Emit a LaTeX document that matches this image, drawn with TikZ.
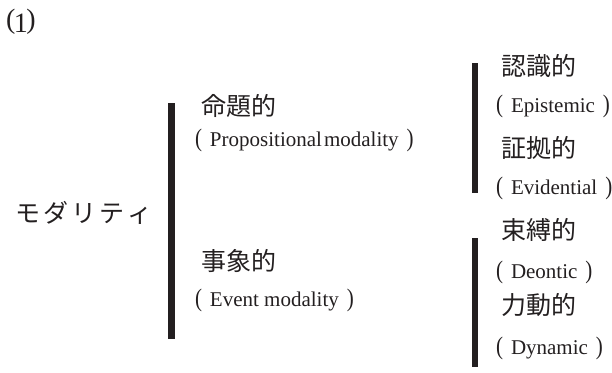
\documentclass[tikz,border=0pt]{standalone}
\usepackage{fontspec}
\newfontfamily\jp{Noto Sans CJK JP}
\newfontfamily\tms{Liberation Serif}
\definecolor{ink}{HTML}{231F20}
\newcommand\lpar{\scalebox{1}[1.2]{(}}
\newcommand\rpar{\scalebox{1}[1.2]{)}}
\newcommand\pls[1]{{\tms\fontsize{21}{21}\selectfont\lpar\hspace{8pt}#1\hspace{8pt}\rpar}}
\tikzset{
  jtxt/.style={anchor=base west, inner sep=0pt, outer sep=0pt, text=ink, font=\jp\fontsize{25}{25}\selectfont},
  etxt/.style={anchor=base west, inner sep=0pt, outer sep=0pt, text=ink},
  bar/.style={fill=ink}
}
\begin{document}
\begin{tikzpicture}[x=1pt,y=-1pt]
\useasboundingbox (0,0) rectangle (612,372);
% label (1)
\node[etxt] (num) at (6,28) {{\tms\fontsize{28}{28}\selectfont(\kern-1.5pt\raisebox{-4pt}{1}\kern-1.5pt)}};
% root
\node[jtxt] (root) at (15,222) {モ\kern3pt ダ\kern3pt リ\kern3pt テ\kern3pt ィ};
% first level
\node[jtxt] (prop) at (201,115.5) {命題的};
\node[etxt] (propE) at (195,146.5) {\pls{Propositional\hspace{2pt}modality}};
\node[jtxt] (event) at (201,270.5) {事象的};
\node[etxt] (eventE) at (195,306.5) {\pls{Event modality}};
% second level, upper
\node[jtxt] (epi) at (501,75.5) {認識的};
\node[etxt] (epiE) at (496,112.5) {\pls{Epistemic}};
\node[jtxt] (evi) at (501,157) {証拠的};
\node[etxt] (eviE) at (496,194) {\pls{Evidential}};
% second level, lower
\node[jtxt] (deo) at (501,239) {束縛的};
\node[etxt] (deoE) at (496,278.5) {\pls{Deontic}};
\node[jtxt] (dyn) at (501,314) {力動的};
\node[etxt] (dynE) at (496,354.5) {\pls{Dynamic}};
% bars
\fill[bar] (168,103) rectangle (175,339);
\fill[bar] (472,63) rectangle (478,193);
\fill[bar] (472,238) rectangle (478,367);
\end{tikzpicture}
\end{document}
